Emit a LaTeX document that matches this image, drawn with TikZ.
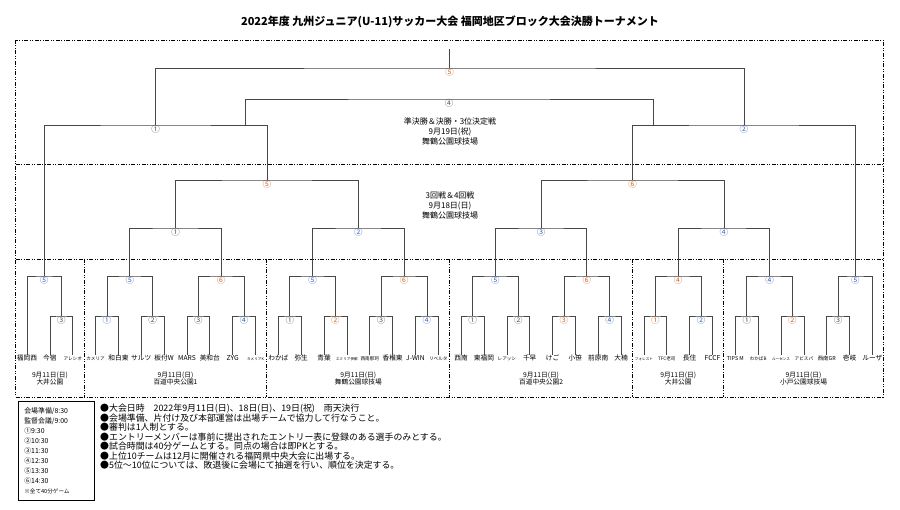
\documentclass[tikz,border=0pt]{standalone}
\usepackage{fontspec}
\setmainfont{Noto Sans CJK JP}
\usetikzlibrary{positioning,calc}

\definecolor{nblue}{RGB}{60,100,190}
\definecolor{norange}{RGB}{205,105,45}
\definecolor{ndark}{RGB}{85,85,85}

\begin{document}
\begin{tikzpicture}[x=1pt,y=-1pt,
    frm/.style={line width=0.9pt,dash pattern=on 4pt off 1.5pt on 1pt off 1.5pt on 1pt off 1.5pt},
    bk/.style={draw=black!72,line width=0.7pt},
    num/.style={anchor=north,inner sep=0.5pt,font=\fontsize{8.5}{9}\selectfont},
    team/.style={anchor=north,inner sep=0.5pt,text height=5pt,text depth=1.2pt,font=\fontsize{6.7}{7}\selectfont},
    teamm/.style={team,font=\fontsize{5.4}{6}\selectfont},
    teams/.style={team,font=\fontsize{4.6}{5}\selectfont},
    teamxs/.style={team,font=\fontsize{3.6}{4}\selectfont},
    venue/.style={align=center,font=\fontsize{6.7}{7}\selectfont},
    info/.style={align=center,inner sep=0pt,font=\fontsize{8}{10}\selectfont}]
\useasboundingbox (0,0) rectangle (900,510);

\node[font=\bfseries\fontsize{11}{12}\selectfont] (title) at (450,22) {2022年度 九州ジュニア(U-11)サッカー大会 福岡地区ブロック大会決勝トーナメント};

% frame
\draw[frm] (15.6,40) rectangle (883,397);
\draw[frm] (15.6,164) -- (883,164);
\draw[frm] (15.6,259) -- (883,259);
\foreach \k in {2,10,18,26,30}
  \draw[frm] ({27+22.85*(\k+0.5)},259) -- ({27+22.85*(\k+0.5)},397);

% teams
\foreach \t/\s [count=\i from 0] in {福岡西/team,今宿/team,アレシオ/teams,
    カメリア/teams,和白東/team,サルツ/team,板付W/team,MARS/team,美和台/team,ZYG/team,カメリアK/teamxs,
    わかば/team,弥生/team,青葉/team,エミリア伊都/teamxs,西南那珂/teams,香椎東/team,J-WIN/team,リベルタ/teams,
    西南/team,東福岡/team,レアッシ/teams,千早/team,けご/team,小笹/team,前原南/team,大楠/team,
    フォレスト/teamxs,TFC老司/teams,長住/team,FCCF/team,
    TIPS M/teamm,わかばB/teams,ルーセンス/teamxs,アビスパ/teams,西南GR/teamm,壱岐/team,ルーザ/team}
  \node[\s] (t\i) at ({27+22.85*\i},355) {\t};

% matches
\foreach \m/\a/\b/\y/\l/\c in {
    oL3/t1/t2/316/③/ndark, h1/t3/t4/316/①/nblue, h2/t5/t6/316/②/ndark,
    h3/t7/t8/316/③/ndark, h4/t9/t10/316/④/nblue, z1/t11/t12/316/①/ndark,
    z2/t13/t14/316/②/norange, z3/t15/t16/316/③/ndark, z4/t17/t18/316/④/nblue,
    k1/t19/t20/316/①/ndark, k2/t21/t22/316/②/ndark, k3/t23/t24/316/③/norange,
    k4/t25/t26/316/④/nblue, r1/t27/t28/316/①/norange, r2/t29/t30/316/②/nblue,
    d1/t31/t32/316/①/ndark, d2/t33/t34/316/②/norange, d3/t35/t36/316/③/ndark,
    oL5/t0/oL3/276/⑤/nblue, h5/h1/h2/276/⑤/nblue, h6/h3/h4/276/⑥/norange,
    z5/z1/z2/276/⑤/nblue, z6/z3/z4/276/⑥/norange, k5/k1/k2/276/⑤/nblue,
    k6/k3/k4/276/⑥/norange, r4/r1/r2/276/④/norange, d4/d1/d2/276/④/nblue,
    d5/d3/t37/276/⑤/nblue,
    A1/h5/h6/228/①/ndark, A2/z5/z6/228/②/nblue, A3/k5/k6/228/③/nblue, A4/r4/d4/228/④/nblue,
    B5/A1/A2/180/⑤/norange, B6/A3/A4/180/⑥/norange,
    S1/oL5/B5/125/①/ndark, S2/B6/d5/125/②/nblue,
    F/S1/S2/68/⑤/norange} {
  \coordinate (\m-x) at ($(\a)!.5!(\b)$);
  \coordinate (\m-y) at (0,\y);
  \node[num,text=\c] (\m) at (\m-x |- \m-y) {\l};
  \draw[bk] (\a.north) |- (\m.north) -| (\b.north);
}

% 3rd place and final
\coordinate (sfL) at (245,125);
\coordinate (sfR) at (653,125);
\coordinate (p3x) at ($(sfL)!.5!(sfR)$);
\coordinate (p3y) at (0,99);
\node[num,text=ndark] (P3) at (p3x |- p3y) {④};
\draw[bk] (sfL) |- (P3.north) -| (sfR);
\coordinate (cup) at ($(F.north)+(0,-19)$);
\draw[bk] (F.north) -- (cup);

\node[info] (sfInfo) at (450,131) {準決勝＆決勝・3位決定戦\\9月19日(祝)\\舞鶴公園球技場};
\node[info] (r3Info) at (450,205) {3回戦＆4回戦\\9月18日(日)\\舞鶴公園球技場};

\foreach \v/\x/\n in {vA/49.9/大井公園,vB/175.5/百道中央公園1,vC/358.3/舞鶴公園球技場,
    vD/541.1/百道中央公園2,vE/678.2/大井公園,vF/803.5/小戸公園球技場}
  \node[venue] (\v) at (\x,379) {9月11日(日)\\\n};

% notes
\node[draw,line width=0.6pt,anchor=north west,text width=64pt,inner xsep=6pt,minimum height=99pt,
    align=left,font=\fontsize{6.9}{9.9}\selectfont] (times) at (18,401)
  {会場準備/8:30\\監督会議/9:00\\①9:30\\②10:30\\③11:30\\④12:30\\⑤13:30\\⑥14:30\\{\fontsize{5.6}{9.9}\selectfont ※全て40分ゲーム}};
\node[anchor=north west,align=left,inner sep=0pt,font=\fontsize{8.9}{9.5}\selectfont] (notes) at (100,404)
  {●大会日時　2022年9月11日(日)、18日(日)、19日(祝)　雨天決行\\
   ●会場準備、片付け及び本部運営は出場チームで協力して行なうこと。\\
   ●審判は1人制とする。\\
   ●エントリーメンバーは事前に提出されたエントリー表に登録のある選手のみとする。\\
   ●試合時間は40分ゲームとする。同点の場合は即PKとする。\\
   ●上位10チームは12月に開催される福岡県中央大会に出場する。\\
   ●5位～10位については、敗退後に会場にて抽選を行い、順位を決定する。};
\end{tikzpicture}
\end{document}
